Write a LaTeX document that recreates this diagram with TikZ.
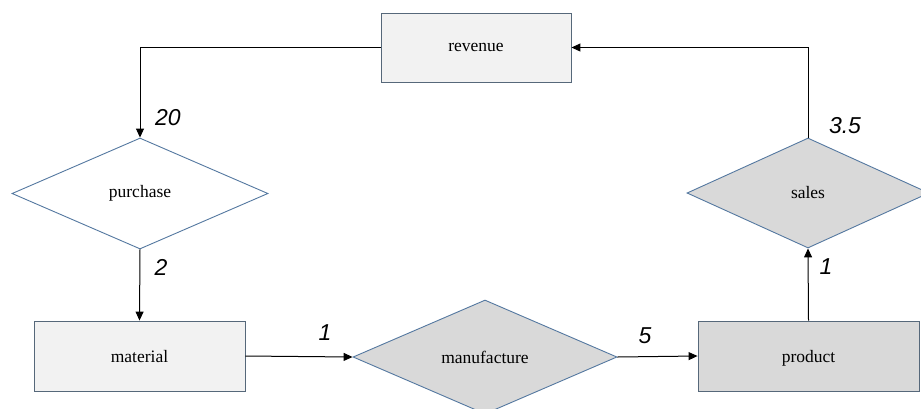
\documentclass[tikz,border=0pt]{standalone}
\usepackage{fontspec}
\setmainfont{Liberation Serif}
\newfontfamily\numfont{Liberation Sans}
\usetikzlibrary{shapes.geometric,arrows.meta}
\definecolor{lightfill}{HTML}{F2F2F2}
\definecolor{grayfill}{HTML}{D9D9D9}
\definecolor{boxline}{HTML}{56687A}
\definecolor{diamline}{HTML}{5478A0}
\tikzset{
  ebox/.style={draw=boxline, line width=0.9pt, rectangle, inner sep=0pt,
    font=\fontsize{17.5}{19}\selectfont, text depth=0pt},
  rel/.style={draw=diamline, line width=0.9pt, diamond, inner sep=2pt,
    font=\fontsize{17.5}{19}\selectfont},
  arr/.style={draw=black, line width=1pt, -{Triangle[length=9pt,width=8pt]}},
  num/.style={font=\numfont\itshape\fontsize{23}{26}\selectfont, inner sep=0pt}
}
\begin{document}
\begin{tikzpicture}[x=1pt,y=-1pt]
\useasboundingbox (0,0) rectangle (921,408);
\clip (0,0) rectangle (921,408);
\fill[white] (0,0) rectangle (921,408);

\node[ebox, fill=lightfill, minimum width=190pt, minimum height=69pt] (revenue) at (476,47.5) {revenue};
\node[rel, fill=white, minimum width=256pt, minimum height=111pt] (purchase) at (140,193.5) {purchase};
\node[ebox, fill=lightfill, minimum width=211pt, minimum height=70pt] (material) at (139.5,356) {material};
\node[rel, fill=grayfill, minimum width=264pt, minimum height=114pt] (manufacture) at (485,357) {manufacture};
\node[ebox, fill=grayfill, minimum width=221pt, minimum height=70pt] (product) at (808.5,356) {product};
\node[rel, fill=grayfill, minimum width=242pt, minimum height=110pt] (sales) at (808,193) {sales};

\draw[arr] (revenue.west) -| (purchase.north);
\draw[arr] (purchase.south) -- (material.north);
\draw[arr] (material.east) -- (manufacture.west);
\draw[arr] (manufacture.east) -- (product.west);
\draw[arr] (product.north) -- (sales.south);
\draw[arr] (sales.north) |- (revenue.east);

\node[num] (n20) at (168,118) {20};
\node[num] (n2) at (161,267) {2};
\node[num] (n1a) at (325,333) {1};
\node[num] (n5) at (645,336) {5};
\node[num] (n1b) at (826,267) {1};
\node[num] (n35) at (845,126) {3.5};
\end{tikzpicture}
\end{document}
